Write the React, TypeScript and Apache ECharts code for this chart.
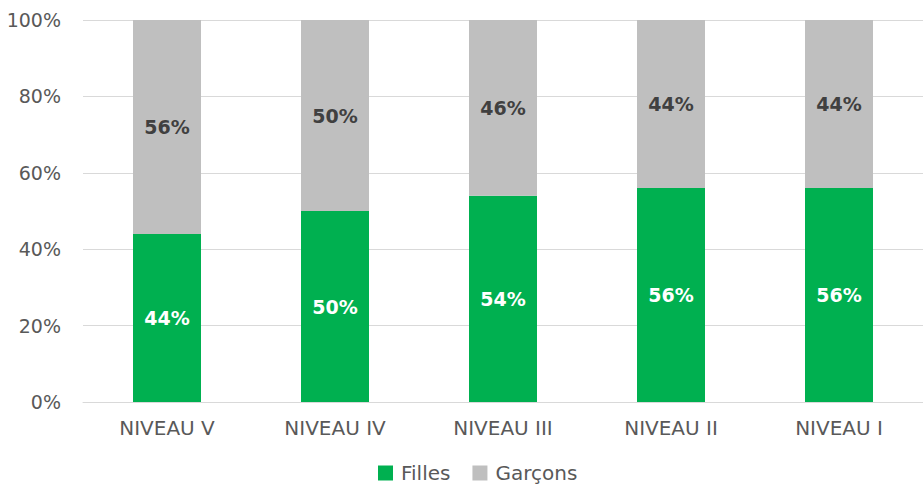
import React, { useEffect, useRef } from "react";
import * as echarts from "echarts";

const categories = ["NIVEAU V", "NIVEAU IV", "NIVEAU III", "NIVEAU II", "NIVEAU I"];
const filles = [44, 50, 54, 56, 56];
const garcons = [56, 50, 46, 44, 44];
const yTicks = [0, 20, 40, 60, 80, 100];

export default function App() {
  const ref = useRef<HTMLDivElement>(null);
  useEffect(() => {
    if (!ref.current) return;
    const chart = echarts.init(ref.current, null, { renderer: "svg" });
    const font = "DejaVu Sans";
    chart.setOption({
      animation: false,
      backgroundColor: "#ffffff",
      grid: { left: 83, top: 20, width: 851, height: 382, containLabel: false },
      legend: {
        top: 463,
        left: 378,
        padding: 0,
        itemWidth: 15,
        itemHeight: 15,
        itemGap: 22,
        icon: "rect",
        textStyle: {
          fontFamily: font,
          fontSize: 20,
          color: "#595959",
          padding: [0, 0, 0, 3],
        },
        data: ["Filles", "Garçons"],
      },
      xAxis: {
        type: "category",
        data: categories,
        axisLine: { lineStyle: { color: "#D9D9D9", width: 1 } },
        axisTick: { show: false },
        axisLabel: { fontFamily: font, fontSize: 20, color: "#595959", margin: 16 },
      },
      yAxis: {
        type: "value",
        min: 0,
        max: 100,
        interval: 20,
        axisLine: { show: false },
        axisTick: { show: false },
        splitLine: { lineStyle: { color: "#D9D9D9", width: 1 } },
        axisLabel: {
          fontFamily: font,
          fontSize: 19,
          color: "#595959",
          margin: 22,
          formatter: (v: number) => (yTicks.includes(v) ? v + "%" : ""),
        },
      },
      series: [
        {
          name: "Filles",
          type: "bar",
          stack: "total",
          barWidth: 68,
          data: filles,
          itemStyle: { color: "#00B050" },
          label: {
            show: true,
            position: "inside",
            formatter: "{c}%",
            fontFamily: font,
            fontWeight: "bold",
            fontSize: 19,
            color: "#ffffff",
          },
        },
        {
          name: "Garçons",
          type: "bar",
          stack: "total",
          barWidth: 68,
          data: garcons,
          itemStyle: { color: "#BFBFBF" },
          label: {
            show: true,
            position: "inside",
            formatter: "{c}%",
            fontFamily: font,
            fontWeight: "bold",
            fontSize: 19,
            color: "#404040",
          },
        },
      ],
    });
    return () => chart.dispose();
  }, []);
  return (
    <div
      ref={ref}
      style={{ position: "fixed", left: 0, top: 0, width: 923, height: 489, overflow: "hidden" }}
    />
  );
}
